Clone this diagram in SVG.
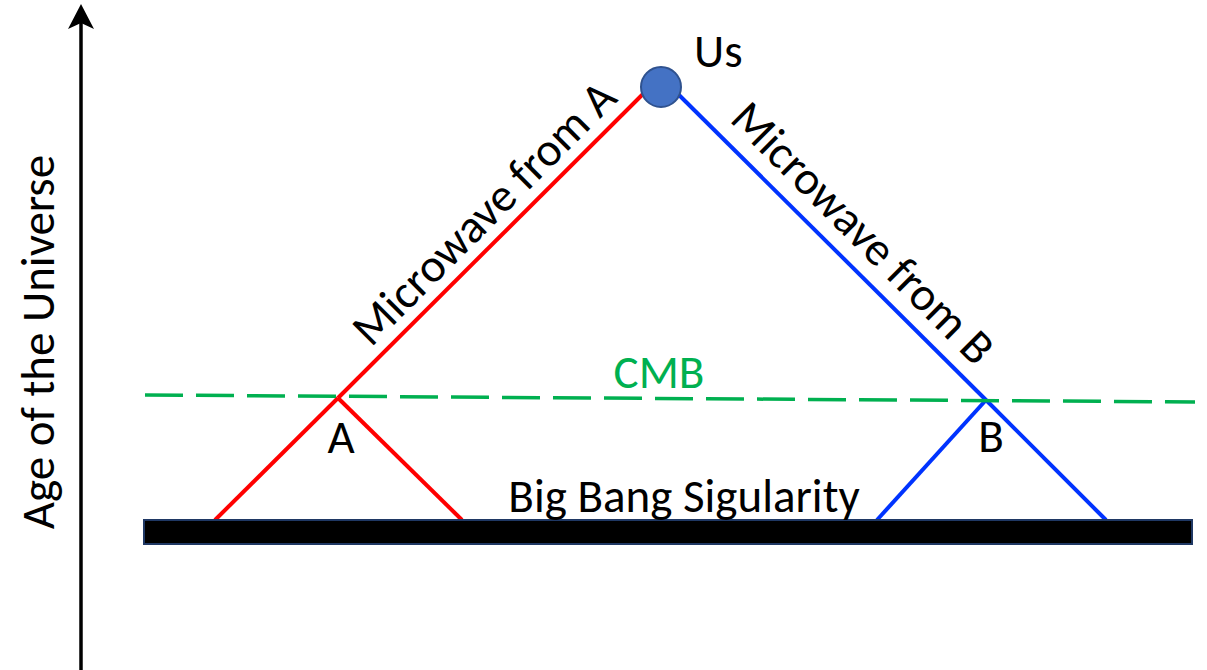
<svg xmlns="http://www.w3.org/2000/svg" width="1207" height="670" viewBox="0 0 1207 670">
<style>
.t{font-family:"Carlito","Liberation Sans",Arial,sans-serif;font-size:47px;fill:#000}
.red{stroke:#ff0000;stroke-width:4;fill:none}
.blue{stroke:#0033ff;stroke-width:4;fill:none}
</style>
<rect width="1207" height="670" fill="#fff"/>
<g id="axis">
<line x1="81" y1="670" x2="81" y2="12" stroke="#000" stroke-width="3.5"/>
<path d="M81 4 L94 29 L81 23 L68 29 Z" fill="#000"/>
<text class="t" transform="translate(54,342) rotate(-90)" text-anchor="middle">Age of the Universe</text>
</g>
<g id="connectors">
<line class="red" x1="643" y1="94" x2="338" y2="398"/>
<line class="red" x1="338" y1="398" x2="215" y2="520"/>
<line class="red" x1="338" y1="398" x2="462" y2="520"/>
<line class="blue" x1="677" y1="93" x2="986" y2="400"/>
<line class="blue" x1="986" y1="400" x2="877" y2="520"/>
<line class="blue" x1="986" y1="400" x2="1106" y2="520"/>
<line x1="145" y1="395" x2="1195" y2="402" stroke="#00b050" stroke-width="3.5" stroke-dasharray="38 13"/>
</g>
<g id="bigbang">
<rect x="144" y="520" width="1048" height="24" fill="#000" stroke="#1f3864" stroke-width="2"/>
<text class="t" x="684" y="512" text-anchor="middle">Big Bang Sigularity</text>
</g>
<g id="us">
<circle cx="661" cy="87" r="20" fill="#4472c4" stroke="#2f528f" stroke-width="2"/>
<text class="t" x="694" y="67">Us</text>
</g>
<g id="labelA">
<text class="t" transform="translate(495,224) rotate(-45)" text-anchor="middle">Microwave from A</text>
<text class="t" x="341" y="453" text-anchor="middle">A</text>
</g>
<g id="labelB">
<text class="t" transform="translate(852,244) rotate(45)" text-anchor="middle">Microwave from B</text>
<text class="t" x="991" y="452" text-anchor="middle">B</text>
</g>
<g id="cmb">
<text class="t" x="659" y="388" text-anchor="middle" style="fill:#00b050">CMB</text>
</g>
</svg>
